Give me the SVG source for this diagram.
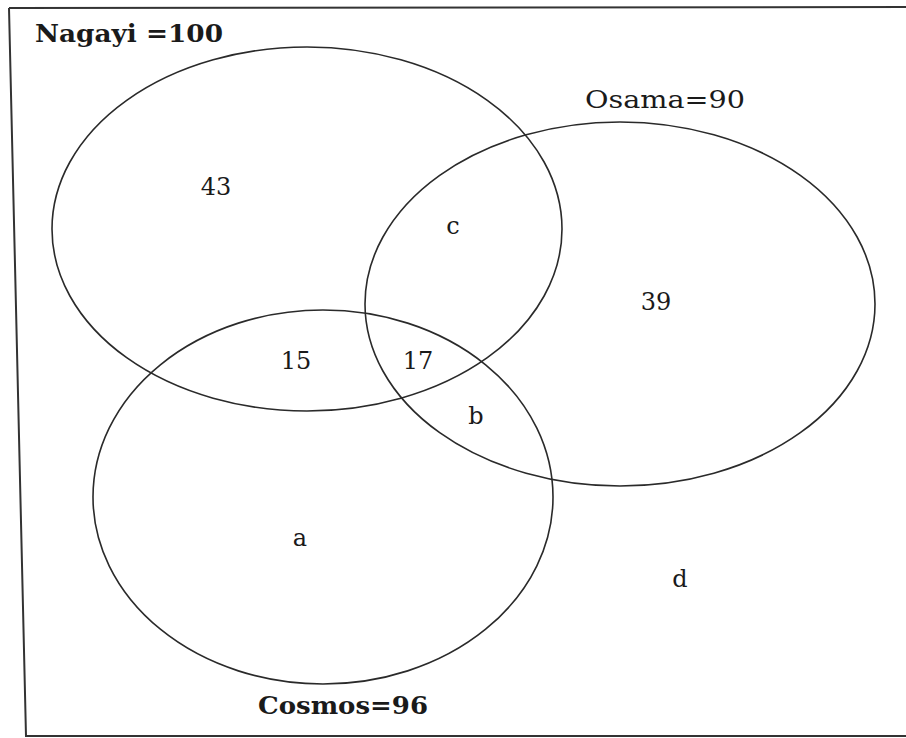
<svg xmlns="http://www.w3.org/2000/svg" width="906" height="738" viewBox="0 0 906 738">
<style>
.set{fill:none;stroke:#2a2a2a;stroke-width:1.6}
.lbl{font-family:"DejaVu Serif","Liberation Serif",serif;font-size:25px;fill:#1a1a1a}
.num{font-family:"DejaVu Serif","Liberation Serif",serif;font-size:24px;fill:#1a1a1a;text-anchor:middle}
</style>
<rect width="906" height="738" fill="#ffffff"/>
<path d="M9,8 L906,7 M9,8 L26,736 L906,736" fill="none" stroke="#333" stroke-width="2"/>
<g id="nagayi">
<ellipse class="set" cx="307" cy="229" rx="255" ry="182"/>
<text class="lbl" x="35" y="42" textLength="188" lengthAdjust="spacingAndGlyphs" font-weight="600">Nagayi =100</text>
</g>
<g id="osama">
<ellipse class="set" cx="620" cy="304" rx="255" ry="182"/>
<text class="lbl" x="585" y="108" textLength="160" lengthAdjust="spacingAndGlyphs">Osama=90</text>
</g>
<g id="cosmos">
<ellipse class="set" cx="323" cy="497" rx="230" ry="187"/>
<text class="lbl" x="258" y="714" textLength="170" lengthAdjust="spacingAndGlyphs" font-weight="bold">Cosmos=96</text>
</g>
<g id="regions">
<text class="num" x="216" y="195">43</text>
<text class="num" x="453" y="234">c</text>
<text class="num" x="656" y="310">39</text>
<text class="num" x="296" y="369">15</text>
<text class="num" x="418" y="369">17</text>
<text class="num" x="476" y="424">b</text>
<text class="num" x="300" y="546">a</text>
<text class="num" x="680" y="587">d</text>
</g>
<g id="connectors"></g>
</svg>
